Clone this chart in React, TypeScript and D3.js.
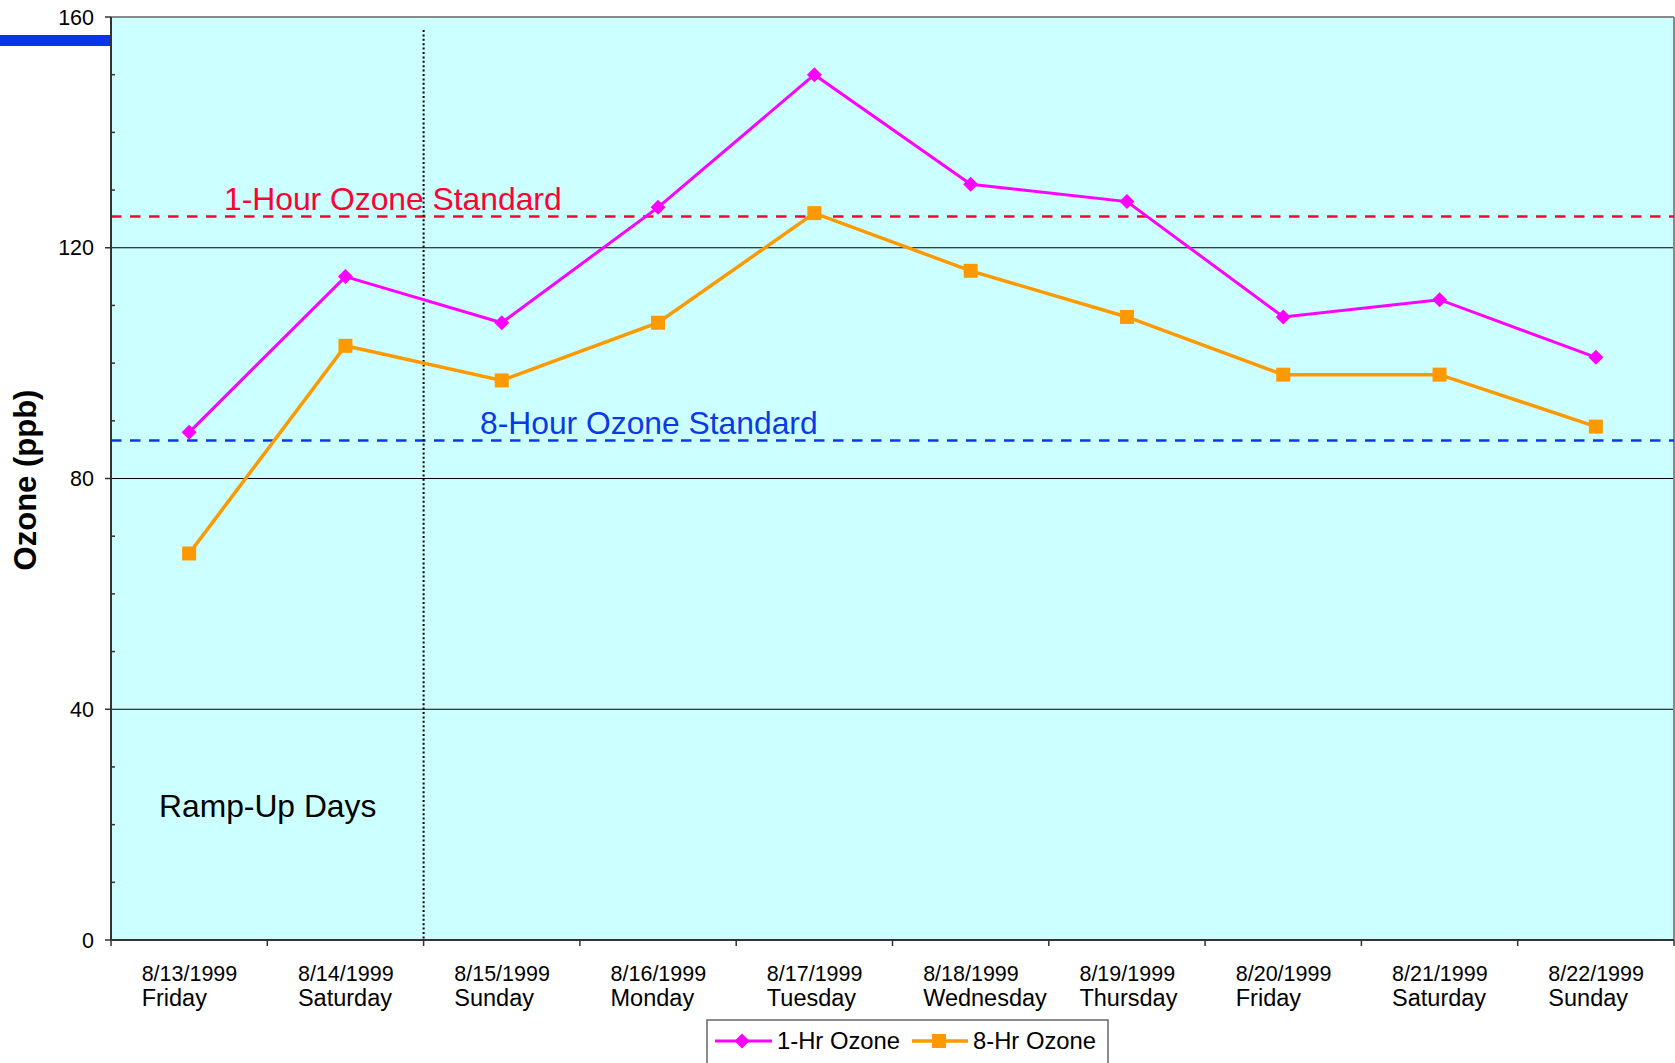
import React from "react";
import * as d3 from "d3";

const dates = ["8/13/1999","8/14/1999","8/15/1999","8/16/1999","8/17/1999","8/18/1999","8/19/1999","8/20/1999","8/21/1999","8/22/1999"];
const days = ["Friday","Saturday","Sunday","Monday","Tuesday","Wednesday","Thursday","Friday","Saturday","Sunday"];
const oneHr = [88,115,107,127,150,131,128,108,111,101];
const eightHr = [67,103,97,107,126,116,108,98,98,89];
const yTicks = [0,40,80,120,160];
const minorTicks = [10,20,30,50,60,70,90,100,110,130,140,150];
const gridVals = [40,80,120];
const std1 = 125.4;
const std8 = 86.6;

const W = 1675, H = 1063;
const L = 111, R = 1674, T = 17, B = 940;
const FONT = "'Liberation Sans', Arial, sans-serif";

export default function App() {
  const x = d3.scaleBand<string>().domain(dates).range([L, R]).padding(0);
  const y = d3.scaleLinear().domain([0, 160]).range([B, T]);
  const cx = (i: number) => (x(dates[i]) as number) + x.bandwidth() / 2;
  const line = d3.line<number>().x((_, i) => cx(i)).y((v) => y(v));
  const bounds = dates.map((d) => x(d) as number).concat([R]);
  const dottedX = bounds[2];

  return (
    <svg width={W} height={H} style={{ position: "absolute", left: 0, top: 0, background: "#fff" }} fontFamily={FONT}>
      <rect x={L} y={T} width={R - L} height={B - T} fill="#ccffff" />
      <rect x={0} y={35} width={L} height={11} fill="#0636e8" />
      {gridVals.map((v) => (
        <line key={v} x1={L} x2={R} y1={y(v)} y2={y(v)} stroke="#000" strokeWidth={1} />
      ))}
      <line x1={L} x2={R} y1={T} y2={T} stroke="#888" strokeWidth={2} />
      <line x1={R} x2={R} y1={T} y2={B} stroke="#888" strokeWidth={2} />
      {/* standards */}
      <line x1={L} x2={R} y1={y(std1)} y2={y(std1)} stroke="#ff0033" strokeWidth={2.5} strokeDasharray="10.5 8.5" />
      <line x1={L} x2={R} y1={y(std8)} y2={y(std8)} stroke="#0a3ae6" strokeWidth={2.5} strokeDasharray="10.5 8.5" />
      <text x={224} y={210} fontSize={31.8} fill="#ff0033">1-Hour Ozone Standard</text>
      <text x={480} y={434} fontSize={31.8} fill="#0a3ae6">8-Hour Ozone Standard</text>
      <text x={159} y={817} fontSize={31.8} fill="#000">Ramp-Up Days</text>
      {/* dotted separator */}
      <line x1={dottedX} x2={dottedX} y1={30} y2={B} stroke="#000" strokeWidth={2} strokeDasharray="2 2.4" />
      {/* series */}
      <path d={line(eightHr) || ""} fill="none" stroke="#ff9900" strokeWidth={3.5} />
      <path d={line(oneHr) || ""} fill="none" stroke="#ff00ff" strokeWidth={3} />
      {eightHr.map((v, i) => (
        <rect key={"s" + i} x={cx(i) - 7} y={y(v) - 7} width={14} height={14} fill="#ff9900" />
      ))}
      {oneHr.map((v, i) => (
        <path key={"d" + i} d={`M${cx(i)},${y(v) - 7.5}L${cx(i) + 7.5},${y(v)}L${cx(i)},${y(v) + 7.5}L${cx(i) - 7.5},${y(v)}Z`} fill="#ff00ff" />
      ))}
      {/* axes */}
      <line x1={L} x2={L} y1={T} y2={B} stroke="#333" strokeWidth={2} />
      <line x1={L} x2={R} y1={B} y2={B} stroke="#333" strokeWidth={2} />
      {yTicks.map((v) => (
        <g key={v}>
          <line x1={L - 6} x2={L} y1={y(v)} y2={y(v)} stroke="#333" strokeWidth={1.5} />
          <text x={94} y={y(v)} dy="0.35em" textAnchor="end" fontSize={21.5} fill="#000">{v}</text>
        </g>
      ))}
      {minorTicks.map((v) => (
        <line key={"m" + v} x1={L} x2={L + 4} y1={y(v)} y2={y(v)} stroke="#333" strokeWidth={1.5} />
      ))}
      {bounds.map((b, i) => (
        <line key={"xt" + i} x1={b} x2={b} y1={B} y2={B + 6} stroke="#333" strokeWidth={1.5} />
      ))}
      {dates.map((d, i) => (
        <g key={d}>
          <text x={cx(i) - 47.5} y={981} fontSize={21.5} fill="#000">{d}</text>
          <text x={cx(i) - 47.5} y={1006} fontSize={23.5} fill="#000">{days[i]}</text>
        </g>
      ))}
      <text transform={`translate(36,480) rotate(-90)`} textAnchor="middle" fontSize={31} fontWeight="bold" fill="#000">Ozone (ppb)</text>
      {/* legend */}
      <rect x={707} y={1020} width={401} height={60} fill="#fff" stroke="#666" strokeWidth={1.5} />
      <line x1={715} x2={772} y1={1041} y2={1041} stroke="#ff00ff" strokeWidth={3} />
      <path d="M742,1033.5L749.5,1041L742,1048.5L734.5,1041Z" fill="#ff00ff" />
      <text x={777} y={1049} fontSize={23.8} fill="#000">1-Hr Ozone</text>
      <line x1={912} x2={968} y1={1041} y2={1041} stroke="#ff9900" strokeWidth={3.5} />
      <rect x={932} y={1034} width={14} height={14} fill="#ff9900" />
      <text x={973} y={1049} fontSize={23.8} fill="#000">8-Hr Ozone</text>
    </svg>
  );
}
